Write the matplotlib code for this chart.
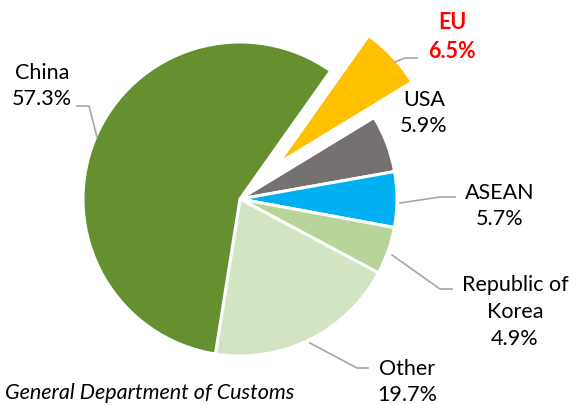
import matplotlib
matplotlib.use("Agg")
import matplotlib.pyplot as plt
from matplotlib.lines import Line2D

# data (clockwise from the exploded EU slice)
labels = ["EU", "USA", "ASEAN", "Republic of\nKorea", "Other", "China"]
values = [6.5, 5.9, 5.7, 4.9, 19.7, 57.3]
colors = ["#FFC000", "#767171", "#00B0F0", "#B7D59B", "#D2E4C1", "#66902F"]
explode = [0.33, 0, 0, 0, 0, 0]
source = "General Department of Customs"

plt.rcParams["font.family"] = ["Lato", "DejaVu Sans"]

W, H = 577, 405
fig = plt.figure(figsize=(W / 100, H / 100), dpi=100)
ax = fig.add_axes([0, 0, 1, 1])

R = 157.0  # pixel radius
cx, cy = 240.0, 199.0  # pixel center

ax.pie(values, colors=colors, explode=explode, startangle=54.7,
       counterclock=False, radius=1.0,
       wedgeprops=dict(edgecolor="white", linewidth=2.2))
ax.set_aspect("auto")
ax.set_xlim(-cx / R, (W - cx) / R)
ax.set_ylim(-(H - cy) / R, cy / R)
ax.axis("off")


def px(x, y):
    return x / W, 1 - y / H


fs = 15.5
lab_pos = {
    "China": (42, 86),
    "EU": (452, 37),
    "USA": (424, 113),
    "ASEAN": (500, 206),
    "Republic of\nKorea": (515, 312),
    "Other": (407, 382),
}
for lab, v in zip(labels, values):
    x, y = lab_pos[lab]
    txt = f"{lab}\n{v:.1f}%"
    if lab == "EU":
        fig.text(*px(x, y), txt, ha="center", va="center", fontsize=fs,
                 color="#FF0000", fontweight="bold", linespacing=1.42)
    else:
        fig.text(*px(x, y), txt, ha="center", va="center", fontsize=fs,
                 color="#000000", linespacing=1.42)

leaders = [
    [(77, 106), (89, 106), (97, 137)],
    [(395, 62), (405, 58), (417, 58)],
    [(400, 203), (440, 197), (455, 197)],
    [(392, 255), (440, 289), (452, 289)],
    [(310, 343), (357, 368), (368, 368)],
]
for pts in leaders:
    xs = [px(p[0], p[1])[0] for p in pts]
    ys = [px(p[0], p[1])[1] for p in pts]
    fig.add_artist(Line2D(xs, ys, color="#A6A6A6", linewidth=1.2,
                          transform=fig.transFigure))

fig.text(*px(294, 393), source, ha="right", va="center", fontsize=fs,
         style="italic", color="#000000")

fig.savefig("out.png", dpi=100)
